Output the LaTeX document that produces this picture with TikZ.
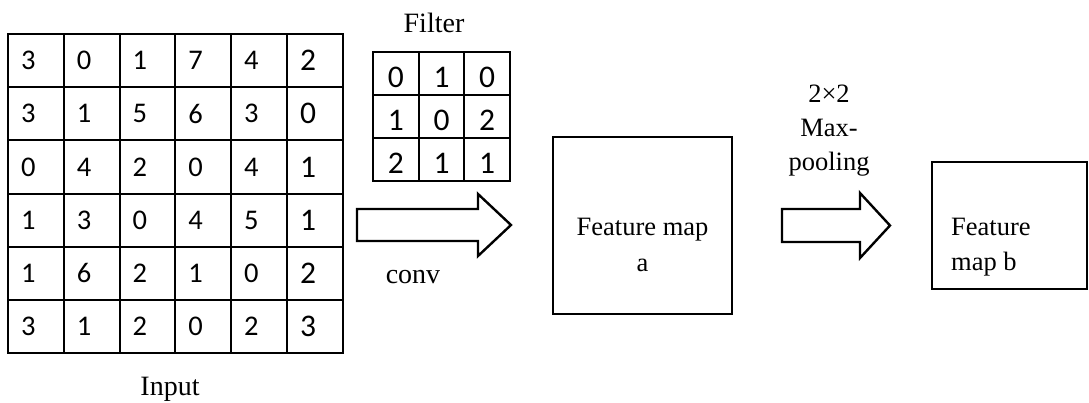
\documentclass[tikz,border=0pt]{standalone}
\usepackage{fontspec}
\setmainfont{Liberation Serif}
\newfontfamily\digitfont{Carlito}
\usepackage{amsmath}

\newcommand{\celltext}[1]{\makebox[29.8pt][l]{#1}}

\tikzset{
    incell/.style={draw, line width=2pt, minimum height=53.2pt,
        inner xsep=13pt, inner ysep=0pt,
        font=\digitfont\fontsize{28.5}{28.5}\selectfont},
    bigdigit/.style={font=\digitfont\fontsize{31.5}{31.5}\selectfont},
    fcell/.style={draw, line width=2pt, minimum width=45.7pt, minimum height=43pt,
        inner sep=0pt, text height=27.5pt, text depth=0pt,
        font=\digitfont\fontsize{31.5}{31.5}\selectfont},
    mapbox/.style={draw, line width=2.5pt, inner sep=0pt},
    maptext/.style={inner sep=0pt, align=center, font=\fontsize{26.5}{35.5}\selectfont},
    caption/.style={inner sep=0pt, anchor=base, font=\fontsize{28}{34}\selectfont},
    blockarrow/.style={draw, line width=2.4pt, line join=miter}
}

\begin{document}
\begin{tikzpicture}[x=1pt,y=-1pt]
    \useasboundingbox (0,0) rectangle (1089,402);
    % input
    \foreach \row [count=\r] in {{3,0,1,7,4,2},{3,1,5,6,3,0},{0,4,2,0,4,1},{1,3,0,4,5,1},{1,6,2,1,0,2},{3,1,2,0,2,3}}
        \foreach \v [count=\c] in \row {
            \ifnum\c=6 \def\sz{bigdigit}\else \def\sz{}\fi
            \node[incell, style/.expand once=\sz] (I\r\c) at ({8+55.8*(\c-0.5)},{34+53.2*(\r-0.5)}) {\celltext{\v}};
        }
    \node[caption] (In) at (170,395) {Input};
    % filter
    \foreach \row [count=\r] in {{0,1,0},{1,0,2},{2,1,1}}
        \foreach \v [count=\c] in \row
            \node[fcell] (F\r\c) at ({373+45.67*(\c-0.5)},{52+43*(\r-0.5)}) {\v};
    \node[caption] (Fi) at (434,32.5) {Filter};
    % conv arrow
    \coordinate (conv) at (357,225);
    \draw[blockarrow] (conv) ++(0,-16) -- ++(121,0) -- ++(0,-15) -- ++(33,31)
        -- ++(-33,31) -- ++(0,-15) -- ++(-121,0) -- cycle;
    \node[caption] (Cv) at (413,283) {conv};
    % feature map a
    \node[mapbox, minimum width=179pt, minimum height=177pt] (A) at (642.5,225.5) {};
    \node[maptext, anchor=base] (At) at (642.5,271) {Feature map\\a};
    % pooling arrow
    \coordinate (pool) at (782,225.5);
    \draw[blockarrow] (pool) ++(0,-16.5) -- ++(78,0) -- ++(0,-16) -- ++(30,32.5)
        -- ++(-30,32.5) -- ++(0,-16) -- ++(-78,0) -- cycle;
    \node[maptext, anchor=base, font=\fontsize{26.5}{34}\selectfont] (P) at (829,170) {2×2\\Max-\\pooling};
    % feature map b
    \node[mapbox, minimum width=155pt, minimum height=127pt] (B) at (1009.5,225.5) {};
    \node[maptext, align=left, anchor=base west] (Bt) at (951,270.5) {Feature\\map b};
\end{tikzpicture}
\end{document}
